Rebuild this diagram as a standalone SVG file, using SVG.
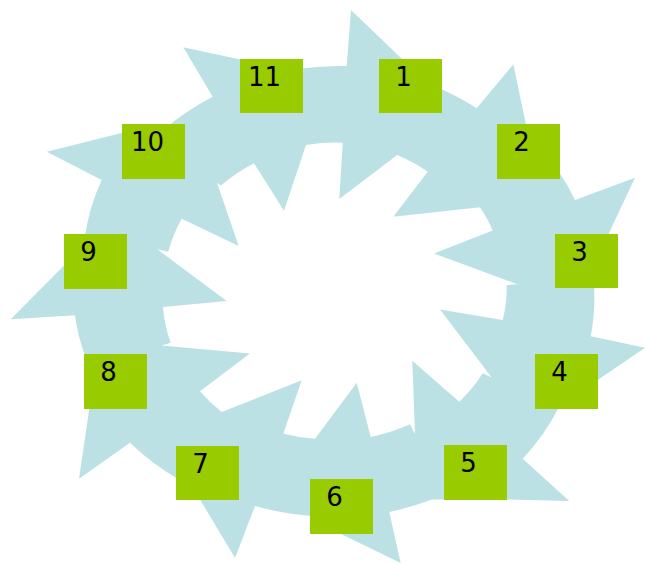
<svg xmlns="http://www.w3.org/2000/svg" width="645" height="564" viewBox="0 0 645 564">
<style>
.ring{fill:#BCE1E5;fill-rule:evenodd;stroke:none}
.box{fill:#99CC00;stroke:none}
.lbl{font-family:"DejaVu Sans","Liberation Sans",sans-serif;font-size:26px;fill:#000;text-anchor:middle}
</style>
<rect width="645" height="564" fill="#FFFFFF"/>
<g id="connectors">
<path class="ring" d="M 346.7,66 L 351,10 L 402,59 L 436,100 L 439,88 A 259 225 0 0 1 476.7,108.3 L 513.3,64.3 L 526,124.5 L 552,170 L 558,170.5 A 259 225 0 0 1 575,200 L 635,177.7 L 608.3,234.5 L 600,270 L 594,286 A 259 225 0 0 1 590.7,336.3 L 645,347.7 L 597,380.5 L 570,400 L 559,407 A 259 225 0 0 1 522.7,458.7 L 569.3,501 L 506,499.5 L 432,499.5 A 259 225 0 0 1 389.3,512 L 400.7,563 L 340,533.5 L 315,520 L 312,516 A 259 225 0 0 1 255,506 L 235,558 L 200,499.5 L 180,484 L 178,479 A 259 225 0 0 1 130,442.7 L 79,478.7 L 89.3,408.5 L 86,360 L 85,356 A 259 225 0 0 1 75,315.3 L 10.7,319.3 L 64.5,265 L 80,245 L 85,236 A 259 225 0 0 1 101.7,180 L 46.7,151.7 L 122.5,132.7 L 160,128 L 168,126 A 259 225 0 0 1 212.7,96.7 L 183.3,47.3 L 240.5,59.5 L 290,70 L 301,68.5 A 259 225 0 0 1 346.7,66 Z
M 306,145 A 172 148 0 0 1 342.7,142.7 L 339.3,199 L 397.3,155 A 172 148 0 0 1 427.7,171.7 L 393.3,216.7 L 480,207.3 A 172 148 0 0 1 492.7,230.5 L 434,253.5 L 517.3,284.3 L 506.7,285 A 172 148 0 0 1 502.7,320 L 440,309.5 L 491.7,377.5 L 482.7,373.3 A 172 148 0 0 1 459.3,401.7 L 412.3,360.7 L 415,434 L 410,424.3 A 172 148 0 0 1 370.7,437 L 356.7,382.7 L 315,438.7 A 172 148 0 0 1 283.3,433.7 L 301.7,380.3 L 221.7,412 A 172 148 0 0 1 200,391.3 L 250,353.5 L 161.7,345.5 L 170.7,342.7 A 172 148 0 0 1 163,307 L 226.7,301 L 157.3,249.3 L 168.3,251.7 A 172 148 0 0 1 181.7,218.7 L 238.7,246 L 217,182.7 L 221,185.5 A 172 148 0 0 1 254,163.3 L 284,210.7 Z"/>
</g>
<g id="node-1"><rect class="box" x="379" y="59" width="63" height="54"/><text class="lbl" x="403.5" y="86">1</text></g>
<g id="node-2"><rect class="box" x="497" y="124" width="63" height="55"/><text class="lbl" x="521.5" y="151">2</text></g>
<g id="node-3"><rect class="box" x="555" y="234" width="63" height="54"/><text class="lbl" x="579.5" y="261">3</text></g>
<g id="node-4"><rect class="box" x="535" y="354" width="63" height="55"/><text class="lbl" x="559.5" y="381">4</text></g>
<g id="node-5"><rect class="box" x="444" y="445" width="63" height="55"/><text class="lbl" x="468.5" y="472">5</text></g>
<g id="node-6"><rect class="box" x="310" y="479" width="63" height="55"/><text class="lbl" x="334.5" y="506">6</text></g>
<g id="node-7"><rect class="box" x="176" y="446" width="63" height="54"/><text class="lbl" x="200.5" y="473">7</text></g>
<g id="node-8"><rect class="box" x="84" y="354" width="63" height="55"/><text class="lbl" x="108.5" y="381">8</text></g>
<g id="node-9"><rect class="box" x="64" y="234" width="63" height="55"/><text class="lbl" x="88.5" y="261">9</text></g>
<g id="node-10"><rect class="box" x="122" y="124" width="63" height="55"/><text class="lbl" x="147.5" y="151">10</text></g>
<g id="node-11"><rect class="box" x="240" y="59" width="63" height="54"/><text class="lbl" x="264.5" y="86">11</text></g>
</svg>
